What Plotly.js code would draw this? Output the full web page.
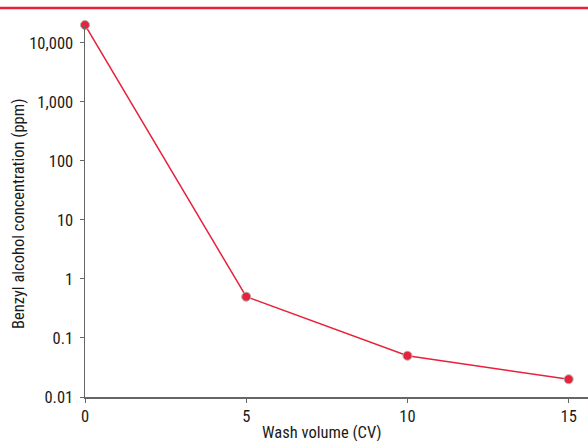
<!DOCTYPE html>
<html>
<head>
<meta charset="utf-8">
<script src="https://cdn.plot.ly/plotly-3.0.1.min.js"></script>
<style>html,body{margin:0;padding:0;background:#fff;}#chart{width:588px;height:441px;}</style>
</head>
<body>
<div id="chart"></div>
<script>
var washVolume = [0, 5, 10, 15];
var concentration = [20000, 0.5, 0.05, 0.02];
var yTickVals = [0.01, 0.1, 1, 10, 100, 1000, 10000];
var yTickText = ["0.01", "0.1", "1", "10", "100", "1,000", "10,000"];
var xTickVals = [0, 5, 10, 15];
var xTitle = "Wash volume (CV)";
var yTitle = "Benzyl alcohol concentration (ppm)";

var fontFam = "'Liberation Sans Narrow', 'Roboto Condensed', 'DejaVu Sans Condensed', sans-serif";
var red = "#e8213c";
var fs = 16.5;
var txt = "#1a1a1a";

var trace = {
  x: washVolume,
  y: concentration,
  type: "scatter",
  mode: "lines+markers",
  line: {color: red, width: 1.5},
  marker: {color: red, size: 9, line: {color: "#b0b0b0", width: 1}},
  cliponaxis: false,
  hoverinfo: "none"
};

var layout = {
  width: 588, height: 441,
  margin: {l: 85, r: 0, t: 25, b: 44},
  paper_bgcolor: "#fff", plot_bgcolor: "#fff",
  showlegend: false,
  font: {family: fontFam, size: fs, color: txt},
  xaxis: {
    range: [0, 15.6],
    tickvals: xTickVals,
    ticks: "outside", ticklen: 4, tickcolor: "#666",
    showgrid: false, zeroline: false,
    showline: true, linecolor: "#666", linewidth: 1.5,
    tickfont: {family: fontFam, size: fs, color: txt}
  },
  yaxis: {
    type: "log",
    range: [-2, Math.log10(20000)],
    tickvals: yTickVals,
    ticktext: yTickText,
    ticks: "outside", ticklen: 4, tickcolor: "#666",
    ticklabelstandoff: 3,
    showgrid: false, zeroline: false,
    showline: true, linecolor: "#666", linewidth: 1.5,
    tickfont: {family: fontFam, size: fs, color: txt}
  },
  annotations: [
    {text: xTitle, xref: "paper", yref: "paper", x: (322 - 85) / 503, y: (397 - 433) / 372,
     xanchor: "center", yanchor: "middle", showarrow: false, font: {family: fontFam, size: fs, color: txt}},
    {text: yTitle, xref: "paper", yref: "paper", x: (18 - 85) / 503, y: (397 - 214) / 372,
     xanchor: "center", yanchor: "middle", textangle: -90, showarrow: false, font: {family: fontFam, size: fs, color: txt}}
  ],
  shapes: [{
    type: "line", xref: "paper", yref: "paper",
    x0: -1, x1: 1.1, y0: (441 - 44 - 8) / 372, y1: (441 - 44 - 8) / 372,
    line: {color: red, width: 2.5}
  }]
};

Plotly.newPlot("chart", [trace], layout, {displayModeBar: false, staticPlot: true});
</script>
</body>
</html>
